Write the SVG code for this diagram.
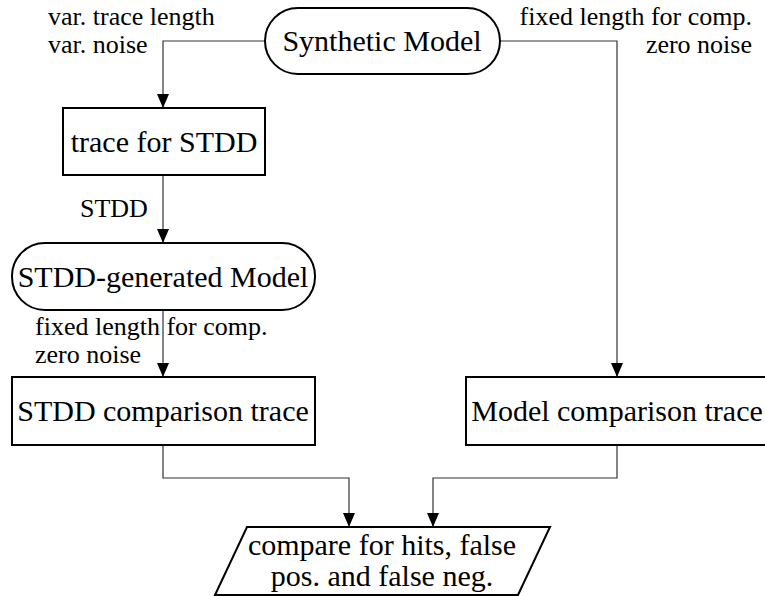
<svg xmlns="http://www.w3.org/2000/svg" width="765" height="596" viewBox="0 0 765 596">
<style>
.node{fill:#fff;stroke:#000;stroke-width:2}
.nt{font-family:"Liberation Serif","Times New Roman",serif;font-size:30px;fill:#000;text-anchor:middle}
.lb{font-family:"Liberation Serif","Times New Roman",serif;font-size:26px;fill:#000}
.edge{fill:none;stroke:#333;stroke-width:1.2}
</style>
<defs>
<marker id="arr" markerUnits="userSpaceOnUse" markerWidth="14" markerHeight="12" refX="14" refY="6" orient="auto">
<path d="M0,0 L14,6 L0,12 z" fill="#000"/>
</marker>
</defs>
<rect width="765" height="596" fill="#fff"/>
<g id="connectors">
<path class="edge" d="M265,41 H163 V108" marker-end="url(#arr)"/>
<path class="edge" d="M500,41 H617 V377" marker-end="url(#arr)"/>
<path class="edge" d="M163,175 V243" marker-end="url(#arr)"/>
<path class="edge" d="M163,310 V377" marker-end="url(#arr)"/>
<path class="edge" d="M163,445 V478 H349 V527" marker-end="url(#arr)"/>
<path class="edge" d="M617,445 V478 H433 V527" marker-end="url(#arr)"/>
<text class="lb" x="48" y="25">var. trace length</text>
<text class="lb" x="48" y="53">var. noise</text>
<text class="lb" x="752" y="25" text-anchor="end">fixed length for comp.</text>
<text class="lb" x="752" y="53" text-anchor="end">zero noise</text>
<text class="lb" x="80" y="217">STDD</text>
<text class="lb" x="35" y="335">fixed length for comp.</text>
<text class="lb" x="35" y="363">zero noise</text>
</g>
<g id="synthetic-model">
<rect class="node" x="265" y="8" width="235" height="66" rx="33"/>
<text class="nt" x="382" y="51">Synthetic Model</text>
</g>
<g id="trace-for-stdd">
<rect class="node" x="63" y="108" width="202" height="67"/>
<text class="nt" x="164" y="152">trace for STDD</text>
</g>
<g id="stdd-generated-model">
<rect class="node" x="12" y="243" width="303" height="67" rx="33"/>
<text class="nt" x="163" y="287">STDD-generated Model</text>
</g>
<g id="stdd-comparison-trace">
<rect class="node" x="12" y="377" width="303" height="68"/>
<text class="nt" x="163" y="421">STDD comparison trace</text>
</g>
<g id="model-comparison-trace">
<rect class="node" x="466" y="377" width="303" height="68"/>
<text class="nt" x="617" y="421">Model comparison trace</text>
</g>
<g id="compare">
<polygon class="node" points="247,527 550,527 518,595 215,595"/>
<text class="nt" x="382" y="555">compare for hits, false</text>
<text class="nt" x="382" y="586">pos. and false neg.</text>
</g>
</svg>
